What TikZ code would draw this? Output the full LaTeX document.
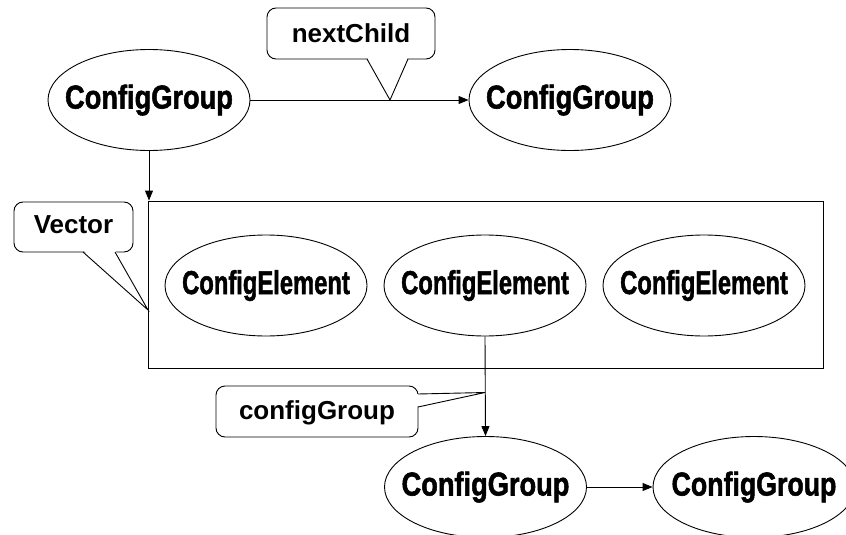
\documentclass[tikz,border=0pt]{standalone}
\usepackage{fontspec}
\setmainfont{Liberation Sans}
\newfontfamily\heavyfont[BoldFeatures={FakeBold=1.8}]{Liberation Sans}
\usetikzlibrary{shapes.geometric,arrows.meta}

\tikzset{
  obj/.style={ellipse, draw, line width=0.9pt, inner sep=0pt,
    minimum width=202pt, minimum height=101pt},
  note/.style={draw, line width=0.9pt, rounded corners=9pt, inner sep=0pt,
    font=\fontsize{26}{26}\selectfont\bfseries, text depth=0pt},
  link/.style={line width=0.9pt},
  arrow/.style={link, -{Triangle[length=10pt,width=8pt]}},
  pointer/.style={line width=0.9pt, line join=miter},
}
% label of an ellipse: zero-size box, so the ellipse keeps its set size
\newcommand{\objlabel}[2]{\raisebox{-8.5pt}[0pt][0pt]{\makebox[0pt]{%
  \scalebox{#1}[1]{\heavyfont\bfseries\fontsize{33}{33}\selectfont #2}}}}

\begin{document}
\begin{tikzpicture}[x=1pt, y=-1pt]
  \useasboundingbox (0,0) rectangle (846,535);
  \clip (0,0) rectangle (846,535);

  % top row
  \node[obj] (cgA) at (149,100) {\objlabel{0.825}{ConfigGroup}};
  \node[obj] (cgB) at (570,100) {\objlabel{0.825}{ConfigGroup}};

  % vector container and its elements
  \node[draw, line width=0.9pt, minimum width=675pt, minimum height=167pt,
        inner sep=0pt] (vec) at (485.5,284.5) {};
  \node[obj] (ceA) at (266,285.5) {\objlabel{0.72}{ConfigElement}};
  \node[obj] (ceB) at (485,285.5) {\objlabel{0.72}{ConfigElement}};
  \node[obj] (ceC) at (704,285.5) {\objlabel{0.72}{ConfigElement}};

  % bottom row
  \node[obj] (cgC) at (485.5,487) {\objlabel{0.825}{ConfigGroup}};
  \node[obj] (cgD) at (754,487) {\objlabel{0.81}{ConfigGroup}};

  % connectors
  \draw[arrow] (cgA.east) -- (cgB.west);
  \draw[arrow] (cgA.south) -- (cgA.south |- vec.north);
  \draw[arrow] (ceB.south) -- (cgC.north);
  \draw[arrow] (cgC.east) -- (cgD.west);

  % callouts
  \node[note, minimum width=168pt, minimum height=51pt, text height=19pt]
       (lblNext) at (351,33.5) {nextChild};
  \node[note, minimum width=119pt, minimum height=50pt, text height=12pt]
       (lblVec) at (73.5,227) {Vector};
  \node[note, minimum width=202pt, minimum height=51pt, text height=15pt]
       (lblCfg) at (317,411.5) {configGroup};

  \coordinate (tipNext) at (390,100);
  \coordinate (tipVec) at (148,310);
  \coordinate (tipCfg) at (485,392.5);

  % pointer of "nextChild"
  \fill[white] (367,57) -- (tipNext) -- (408,57) -- cycle;
  \draw[pointer] (367,59) -- (tipNext) -- (408,59);

  % pointer of "Vector"
  \fill[white] (83,250) -- (tipVec) -- (115,250) -- cycle;
  \draw[pointer] (83,252) -- (tipVec) -- (115,252);

  % pointer of "configGroup"
  \fill[white] (415,394) -- (tipCfg) -- (415,407) -- cycle;
  \draw[pointer] (418,394) -- (tipCfg) -- (418,407);
\end{tikzpicture}
\end{document}
